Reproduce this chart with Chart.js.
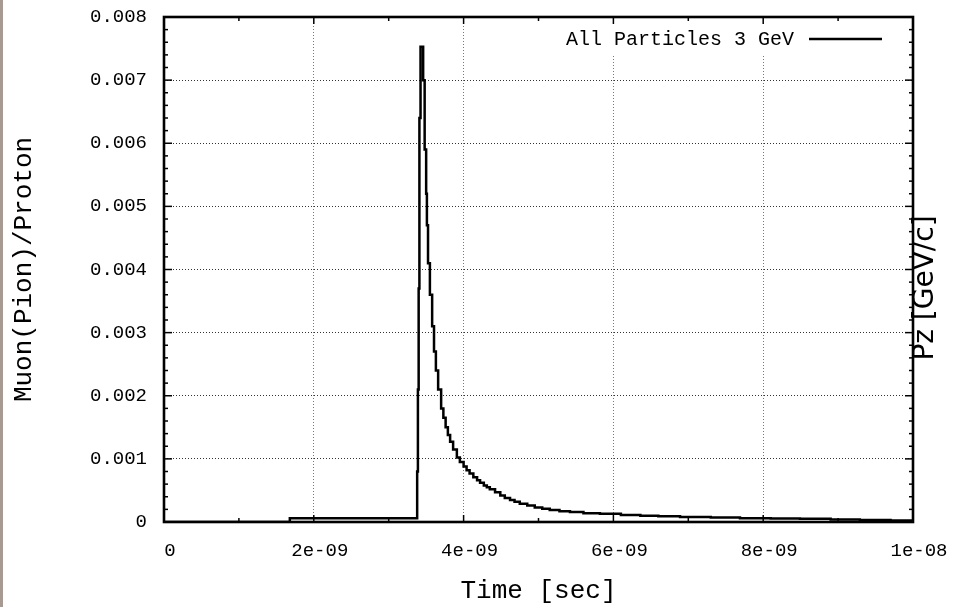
<!DOCTYPE html>
<html>
<head>
<meta charset="utf-8">
<script src="https://cdn.jsdelivr.net/npm/chart.js@4/dist/chart.umd.min.js"></script>
<style>
  html, body { margin: 0; padding: 0; background: #fff; }
  #wrap { width: 953px; height: 607px; position: relative; }
</style>
</head>
<body>
<div id="wrap"><canvas id="ratio-chart" width="953" height="607"></canvas></div>
<script>
// Tiempo (s) y razón muón(pión)/protón, leídos del histograma
// (cada valor se mantiene desde su tiempo hasta el siguiente)
const timeSec = [
    0, 1.68e-9, 3.38e-9, 3.39e-9, 3.40e-9, 3.41e-9, 3.425e-9, 3.46e-9, 3.48e-9,
    3.50e-9, 3.51e-9, 3.525e-9, 3.55e-9, 3.58e-9, 3.605e-9, 3.63e-9, 3.66e-9,
    3.70e-9, 3.73e-9, 3.76e-9, 3.79e-9, 3.82e-9, 3.86e-9, 3.91e-9, 3.95e-9,
    4.00e-9, 4.04e-9, 4.08e-9, 4.13e-9, 4.18e-9, 4.22e-9, 4.27e-9, 4.31e-9,
    4.35e-9, 4.42e-9, 4.49e-9, 4.55e-9, 4.62e-9, 4.68e-9, 4.75e-9, 4.85e-9,
    4.95e-9, 5.05e-9, 5.15e-9, 5.28e-9, 5.42e-9, 5.60e-9, 5.82e-9, 6.10e-9,
    6.36e-9, 6.60e-9, 6.89e-9, 7.30e-9, 7.69e-9, 8.10e-9, 8.49e-9, 8.90e-9,
    9.29e-9, 9.70e-9, 1.0e-8
];
const ratio = [
    0, 0.00006, 0.0008, 0.0021, 0.0037, 0.0064, 0.00753, 0.0070, 0.0059,
    0.0052, 0.0047, 0.0041, 0.0036, 0.0031, 0.0027, 0.0024, 0.0021,
    0.0018, 0.00165, 0.0015, 0.00138, 0.00127, 0.00115, 0.00102, 0.00095,
    0.00088, 0.00082, 0.00077, 0.00071, 0.00066, 0.00062, 0.00058, 0.00055,
    0.00052, 0.00047, 0.00042, 0.00038, 0.00035, 0.00032, 0.00029, 0.00026,
    0.00023, 0.00021, 0.00019, 0.00017, 0.00016, 0.00014, 0.00013, 0.00011,
    0.00010, 0.00009, 0.00008, 0.00007, 0.00006, 0.000055, 0.00005, 0.00004,
    0.00003, 0.000025, 0.00002
];

// Marcas de los ejes
const xTickValues = [0, 2e-9, 4e-9, 6e-9, 8e-9, 1e-8];
const xTickLabels = ['0', '2e-09', '4e-09', '6e-09', '8e-09', '1e-08'];
const yTickValues = [0, 0.001, 0.002, 0.003, 0.004, 0.005, 0.006, 0.007, 0.008];
const yTickLabels = ['0', '0.001', '0.002', '0.003', '0.004', '0.005', '0.006', '0.007', '0.008'];

const seriesLabel = 'All Particles 3 GeV';
const xTitle = 'Time [sec]';
const yTitle = 'Muon(Pion)/Proton';
const y2Title = 'Pz [GeV/c]';

const monoFont = "'Liberation Mono', 'Courier New', monospace";

// Marco estilo gnuplot: borde, marcas interiores, leyenda y etiqueta derecha
const marcoGnuplot = {
    id: 'marcoGnuplot',
    beforeDraw(chart) {
        const ctx = chart.ctx;
        ctx.save();
        ctx.fillStyle = '#a69a92';
        ctx.fillRect(0, 0, 3, chart.height);
        ctx.restore();
    },
    beforeDatasetsDraw(chart) {
        // fondo blanco de la leyenda sobre la rejilla
        const ctx = chart.ctx;
        ctx.save();
        ctx.fillStyle = '#fff';
        ctx.fillRect(558, 19, 334, 36);
        ctx.restore();
    },
    afterDraw(chart) {
        const { ctx, chartArea: a, scales: { x, y } } = chart;
        ctx.save();
        ctx.strokeStyle = '#000';
        ctx.lineWidth = 1.5;
        const line = (x1, y1, x2, y2) => {
            ctx.beginPath(); ctx.moveTo(x1, y1); ctx.lineTo(x2, y2); ctx.stroke();
        };
        // marcas en x (mayores cada 2e-9, menores cada 1e-9)
        for (let i = 0; i <= 10; i++) {
            const px = x.getPixelForValue(i * 1e-9);
            const len = i % 2 === 0 ? 7 : 4;
            line(px, a.bottom, px, a.bottom - len);
            line(px, a.top, px, a.top + len);
        }
        // marcas en y (mayores cada 0.001, menores cada 0.0002)
        for (let i = 0; i <= 40; i++) {
            const py = y.getPixelForValue(i * 0.0002);
            const len = i % 5 === 0 ? 8 : 4;
            line(a.left, py, a.left + len, py);
            line(a.right, py, a.right - len, py);
        }
        ctx.lineWidth = 2.6;
        ctx.strokeRect(a.left, a.top, a.right - a.left, a.bottom - a.top);

        // leyenda
        ctx.fillStyle = '#000';
        ctx.font = '20px ' + monoFont;
        ctx.textAlign = 'right';
        ctx.textBaseline = 'middle';
        ctx.fillText(seriesLabel, 794, 40);
        ctx.lineWidth = 2.5;
        line(809, 39, 882, 39);

        // etiqueta derecha
        ctx.translate(926, 288);
        ctx.rotate(-Math.PI / 2);
        ctx.textAlign = 'center';
        ctx.font = "28px 'DejaVu Sans', sans-serif";
        ctx.fillText(y2Title, 0, 0);
        ctx.restore();
    }
};

const ctx = document.getElementById('ratio-chart').getContext('2d');

const chartRatio = new Chart(ctx, {
    type: 'line',
    data: {
        datasets: [{
            label: seriesLabel,
            data: timeSec.map((t, i) => ({ x: t, y: ratio[i] })),
            borderColor: '#000',
            borderWidth: 2.5,
            stepped: 'before',
            pointRadius: 0,
            fill: false
        }]
    },
    options: {
        responsive: false,
        animation: false,
        layout: { padding: { top: 17, right: 40, left: 0, bottom: 0 } },
        plugins: {
            legend: { display: false },
            tooltip: { enabled: false }
        },
        scales: {
            x: {
                type: 'linear',
                min: 0,
                max: 1e-8,
                afterBuildTicks: s => { s.ticks = xTickValues.map(v => ({ value: v })); },
                afterFit: s => { s.height = 85; s.paddingLeft = 0; s.paddingRight = 0; },
                ticks: {
                    callback: (v, i) => xTickLabels[i],
                    font: { family: monoFont, size: 19 },
                    color: '#000',
                    padding: 18,
                    labelOffset: 6,
                    maxRotation: 0,
                    autoSkip: false
                },
                grid: { color: '#777', lineWidth: 1, drawTicks: false },
                border: { display: false, dash: [1, 2] },
                title: {
                    display: true,
                    text: xTitle,
                    font: { family: monoFont, size: 26 },
                    color: '#000',
                    padding: { top: 0, bottom: 0 }
                }
            },
            y: {
                min: 0,
                max: 0.008,
                afterBuildTicks: s => { s.ticks = yTickValues.map(v => ({ value: v })); },
                afterFit: s => { s.width = 164; s.paddingTop = 0; s.paddingBottom = 0; },
                ticks: {
                    callback: (v, i) => yTickLabels[i],
                    font: { family: monoFont, size: 19 },
                    color: '#000',
                    padding: 17,
                    autoSkip: false
                },
                grid: { color: '#333', lineWidth: 1, drawTicks: false },
                border: { display: false, dash: [1, 2] },
                title: {
                    display: true,
                    text: yTitle,
                    font: { family: monoFont, size: 26 },
                    color: '#000',
                    padding: { top: 9, bottom: 0 }
                }
            }
        }
    },
    plugins: [marcoGnuplot]
});
</script>
</body>
</html>
